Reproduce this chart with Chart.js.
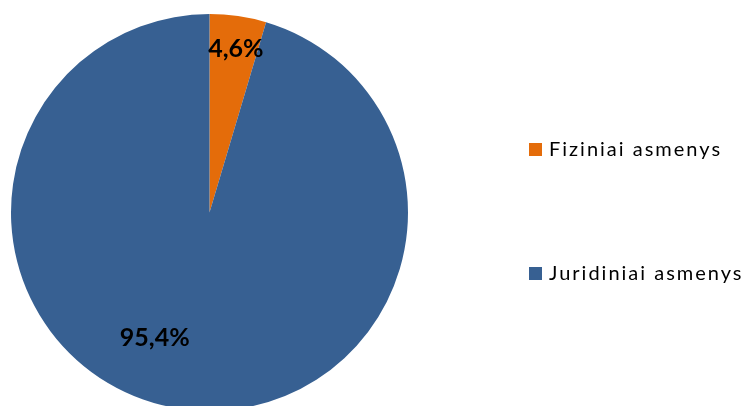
<!DOCTYPE html>
<html>
<head>
<meta charset="utf-8">
<script src="https://cdn.jsdelivr.net/npm/chart.js@4"></script>
<style>
  html, body { margin: 0; padding: 0; overflow: hidden; background: #fff; }
  #wrap { width: 745px; height: 430px; position: relative; }
</style>
</head>
<body>
<div id="wrap"><canvas id="pie"></canvas></div>
<script>
const categories = ["Fiziniai asmenys", "Juridiniai asmenys"];
const shares = [4.6, 95.4];
const colors = ["#E46C0A", "#376092"];

// where each data label sits: fraction of radius, angle shift (deg)
const labelRadius = [0.835, 0.69];
const labelShift = [0.9, 15.3];

const labelPlugin = {
  id: "sliceLabels",
  afterDatasetsDraw(chart) {
    const ctx = chart.ctx;
    const meta = chart.getDatasetMeta(0);
    ctx.save();
    ctx.font = "bold 25px Lato, sans-serif";
    ctx.fillStyle = "#000";
    ctx.textAlign = "center";
    ctx.textBaseline = "middle";
    meta.data.forEach((arc, i) => {
      const p = arc.getProps(["x", "y", "startAngle", "endAngle", "outerRadius"], true);
      const a = (p.startAngle + p.endAngle) / 2 + labelShift[i] * Math.PI / 180;
      const r = p.outerRadius * labelRadius[i];
      const txt = shares[i].toFixed(1).replace(".", ",") + "%";
      ctx.fillText(txt, p.x + Math.cos(a) * r, p.y + Math.sin(a) * r);
    });
    ctx.restore();
  }
};

const legendPlugin = {
  id: "sideLegend",
  afterDraw(chart) {
    const ctx = chart.ctx;
    ctx.save();
    ctx.font = "20px Lato, sans-serif";
    ctx.letterSpacing = "2px";
    ctx.textBaseline = "middle";
    categories.forEach((name, i) => {
      const y = 150 + i * 124;
      ctx.fillStyle = colors[i];
      ctx.fillRect(529, y - 7, 13, 13);
      ctx.fillStyle = "#000";
      ctx.fillText(name, 549, y);
    });
    ctx.restore();
  }
};

function draw() {
  new Chart(document.getElementById("pie"), {
    type: "pie",
    data: {
      labels: categories,
      datasets: [{
        data: shares,
        backgroundColor: colors,
        borderWidth: 0
      }]
    },
    options: {
      responsive: true,
      maintainAspectRatio: false,
      animation: false,
      layout: { padding: { left: 11, top: 14, right: 337, bottom: 19 } },
      plugins: {
        legend: { display: false },
        tooltip: { enabled: false }
      }
    },
    plugins: [labelPlugin, legendPlugin]
  });
}

Promise.all([
  document.fonts.load("bold 25px Lato"),
  document.fonts.load("20px Lato")
]).then(draw, draw);
</script>
</body>
</html>
